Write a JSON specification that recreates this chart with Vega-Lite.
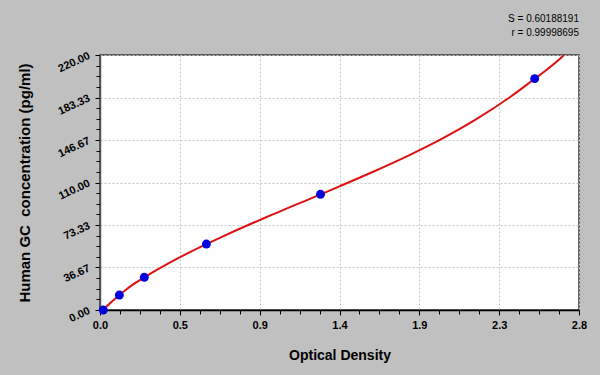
{
  "$schema": "https://vega.github.io/schema/vega-lite/v6.json",
  "width": 479,
  "height": 255,
  "autosize": {"type": "none"},
  "padding": {"left": 100, "top": 55, "right": 21, "bottom": 65},
  "background": "#c0c0c0",
  "title": {
    "text": ["S = 0.60188191", "r = 0.99998695"],
    "anchor": "end",
    "frame": "group",
    "font": "Liberation Sans",
    "fontSize": 10,
    "fontWeight": "normal",
    "lineHeight": 14,
    "color": "#000000",
    "offset": 12
  },
  "config": {
    "view": {"fill": "#ffffff", "stroke": "#333333", "strokeWidth": 1.5},
    "axis": {"labelFont": "Liberation Sans", "titleFont": "Liberation Sans", "labelColor": "#000000", "titleColor": "#000000", "tickColor": "#000000", "domainColor": "#000000", "labelFlush": false, "labelOverlap": false}
  },
  "datasets": {
    "curve": [
      {"od": 0.019, "conc": 0},
      {"od": 0.06, "conc": 6.0},
      {"od": 0.1, "conc": 11.3},
      {"od": 0.113, "conc": 12.9},
      {"od": 0.15, "conc": 17.3},
      {"od": 0.2, "conc": 22.7},
      {"od": 0.259, "conc": 28.2},
      {"od": 0.3, "conc": 31.9},
      {"od": 0.4, "conc": 40.3},
      {"od": 0.5, "conc": 48.0},
      {"od": 0.6, "conc": 55.3},
      {"od": 0.7, "conc": 62.3},
      {"od": 0.8, "conc": 69.0},
      {"od": 0.9, "conc": 75.5},
      {"od": 1.0, "conc": 81.8},
      {"od": 1.1, "conc": 88.1},
      {"od": 1.2, "conc": 94.2},
      {"od": 1.29, "conc": 99.8},
      {"od": 1.4, "conc": 106.7},
      {"od": 1.6, "conc": 119.5},
      {"od": 1.8, "conc": 133.0},
      {"od": 2.0, "conc": 147.8},
      {"od": 2.2, "conc": 164.6},
      {"od": 2.4, "conc": 184.0},
      {"od": 2.541, "conc": 199.5},
      {"od": 2.6, "conc": 206.0},
      {"od": 2.7, "conc": 218.3},
      {"od": 2.712, "conc": 220.0}
    ],
    "standards": [
      {"od": 0.019, "conc": 0},
      {"od": 0.113, "conc": 12.9},
      {"od": 0.259, "conc": 28.2},
      {"od": 0.622, "conc": 56.9},
      {"od": 1.289, "conc": 99.8},
      {"od": 2.541, "conc": 199.6}
    ]
  },
  "layer": [
    {
      "data": {"name": "curve"},
      "mark": {"type": "line", "color": "#dd1111", "strokeWidth": 2, "interpolate": "monotone", "clip": true},
      "encoding": {
        "x": {
          "field": "od", "type": "quantitative",
          "scale": {"domain": [0, 2.8], "nice": false, "zero": false},
          "axis": {
            "orient": "bottom",
            "title": "Optical Density",
            "titleFontSize": 14, "titleFontWeight": "bold", "titlePadding": 18,
            "values": [0, 0.46667, 0.93333, 1.4, 1.86667, 2.33333, 2.8],
            "format": ".1f",
            "labelFontSize": 11, "labelFontWeight": "bold", "labelPadding": 4,
            "tickSize": 5, "domainWidth": 1.5,
            "grid": true, "gridColor": "#c8c8c8", "gridDash": [2, 2], "gridWidth": 1
          }
        },
        "y": {
          "field": "conc", "type": "quantitative",
          "scale": {"domain": [0, 220], "nice": false, "zero": false},
          "axis": {
            "orient": "left",
            "title": "Human GC\u00a0 concentration (pg/ml)",
            "titleFontSize": 15, "titleFontWeight": "bold", "titlePadding": 23,
            "values": [0, 36.6667, 73.3333, 110, 146.6667, 183.3333, 220],
            "format": ".2f",
            "labelFontSize": 11, "labelFontWeight": "bold", "labelAngle": -25,
            "labelAlign": "right", "labelBaseline": "middle", "labelPadding": 6,
            "tickSize": 5, "domainColor": "#555555", "domainWidth": 1.5,
            "grid": true, "gridColor": "#c8c8c8", "gridDash": [2, 2], "gridWidth": 1
          }
        }
      }
    },
    {
      "data": {"name": "standards"},
      "mark": {"type": "point", "filled": true, "color": "#0000dd", "size": 80, "opacity": 1},
      "encoding": {
        "x": {
          "field": "od", "type": "quantitative",
          "axis": {
            "orient": "bottom",
            "title": null, "labels": false, "domain": false, "grid": false,
            "values": [0.11667, 0.23333, 0.35, 0.58333, 0.7, 0.81667, 1.05, 1.16667, 1.28333, 1.51667, 1.63333, 1.75, 1.98333, 2.1, 2.21667, 2.45, 2.56667, 2.68333],
            "tickSize": 4
          }
        },
        "y": {
          "field": "conc", "type": "quantitative",
          "axis": {
            "orient": "left",
            "title": null, "labels": false, "domain": false, "grid": false,
            "values": [9.1667, 18.3333, 27.5, 45.8333, 55, 64.1667, 82.5, 91.6667, 100.8333, 119.1667, 128.3333, 137.5, 155.8333, 165, 174.1667, 192.5, 201.6667, 210.8333],
            "tickSize": 4
          }
        }
      }
    }
  ],
  "resolve": {"axis": {"x": "independent", "y": "independent"}}
}
